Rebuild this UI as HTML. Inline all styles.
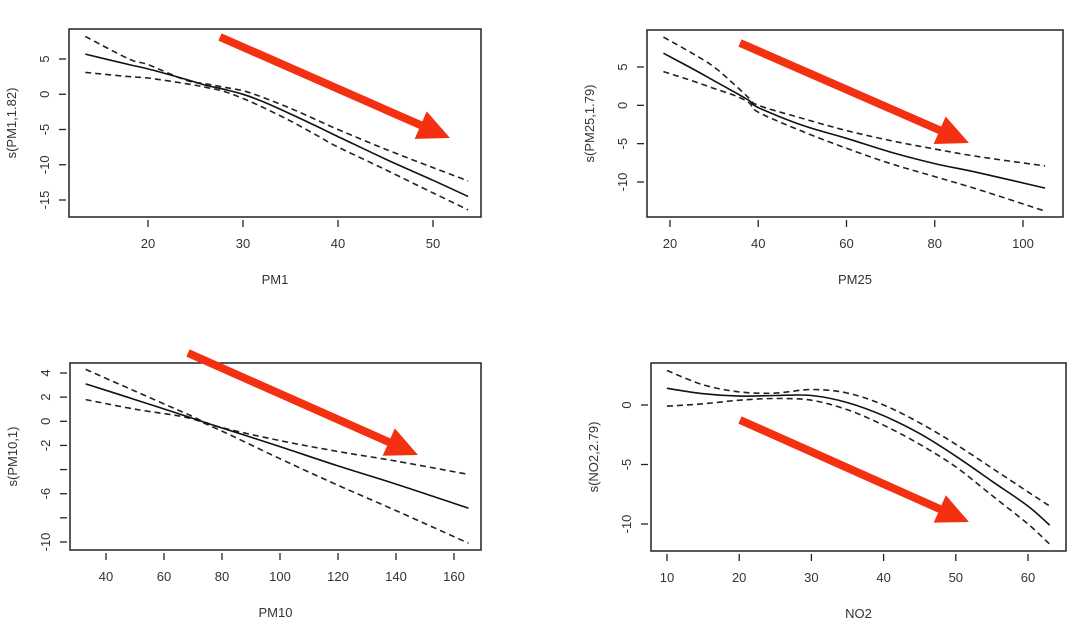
<!DOCTYPE html>
<html><head><meta charset="utf-8"><style>
html,body{margin:0;padding:0;background:#fff;}
svg{display:block;font-family:"Liberation Sans",Arial,sans-serif;}
</style></head><body>
<svg id="c" width="1080" height="624" viewBox="0 0 1080 624"></svg>
<script>
// Panel 1: PM1
const pm1X=[13.4,18,20,24,26,28,30,32,35,38,40,45,50,53.7];
const pm1Fit=[5.7,4.2,3.6,2.1,1.3,0.7,0,-1.0,-2.8,-4.7,-6.0,-9.2,-12.2,-14.5];
const pm1Up=[8.2,5.0,4.2,2.0,1.5,1.0,0.5,-0.4,-2.0,-3.8,-5.0,-7.8,-10.4,-12.3];
const pm1Lo=[3.1,2.5,2.3,1.5,1.0,0.4,-0.6,-1.8,-3.8,-6.0,-7.5,-10.7,-14.0,-16.4];
const pm1XTicks=[20,30,40,50];
const pm1YTicks=[5,0,-5,-10,-15];
// Panel 2: PM25
const pm25X=[18.5,25,30,35,38,40,50,60,70,80,90,105];
const pm25Fit=[6.8,4.8,3.2,1.6,0.6,-0.3,-2.6,-4.3,-6.1,-7.6,-8.8,-10.8];
const pm25Up=[8.9,6.8,5.0,2.5,0.9,0,-1.7,-3.3,-4.6,-5.7,-6.7,-7.9];
const pm25Lo=[4.4,3.2,2.2,1.2,0.3,-0.9,-3.4,-5.6,-7.6,-9.3,-11.0,-13.8];
const pm25XTicks=[20,40,60,80,100];
const pm25YTicks=[5,0,-5,-10];
// Panel 3: PM10
const pm10X=[33,50,68,78,100,120,140,165];
const pm10Fit=[3.1,1.8,0.4,-0.4,-2.1,-3.7,-5.2,-7.2];
const pm10Up=[4.3,2.5,0.6,-0.4,-1.6,-2.5,-3.3,-4.4];
const pm10Lo=[1.8,1.0,0.3,-0.6,-3.1,-5.3,-7.4,-10.1];
const pm10XTicks=[40,60,80,100,120,140,160];
const pm10YTicks=[4,2,0,-2,-4,-6,-8,-10];
const pm10YLabels=["4","2","0","-2","","-6","","-10"];
// Panel 4: NO2
const no2X=[10,15,20,25,30,35,40,45,50,55,60,63];
const no2Fit=[1.4,0.95,0.75,0.8,0.8,0.2,-0.9,-2.4,-4.3,-6.4,-8.5,-10.1];
const no2Up=[2.9,1.7,1.1,1.0,1.3,1.0,0.0,-1.5,-3.3,-5.3,-7.3,-8.5];
const no2Lo=[-0.1,0.1,0.4,0.55,0.4,-0.4,-1.7,-3.3,-5.2,-7.6,-10.0,-11.7];
const no2XTicks=[10,20,30,40,50,60];
const no2YTicks=[0,-5,-10];

const NS="http://www.w3.org/2000/svg";
const svg=document.getElementById('c');
function mk(tag,attrs,parent){const e=document.createElementNS(NS,tag);for(const k in attrs)e.setAttribute(k,attrs[k]);(parent||svg).appendChild(e);return e;}

function smooth(pts){
  let d='M'+pts[0][0].toFixed(1)+','+pts[0][1].toFixed(1);
  for(let i=0;i<pts.length-1;i++){
    const p0=pts[Math.max(0,i-1)],p1=pts[i],p2=pts[i+1],p3=pts[Math.min(pts.length-1,i+2)];
    const c1x=p1[0]+(p2[0]-p0[0])/6,c1y=p1[1]+(p2[1]-p0[1])/6;
    const c2x=p2[0]-(p3[0]-p1[0])/6,c2y=p2[1]-(p3[1]-p1[1])/6;
    d+=` C${c1x.toFixed(1)},${c1y.toFixed(1)} ${c2x.toFixed(1)},${c2y.toFixed(1)} ${p2[0].toFixed(1)},${p2[1].toFixed(1)}`;
  }
  return d;
}

function panel(cfg){
  const g=mk('g',{});
  
  
  const sx=v=>cfg.px0+(v-cfg.x0)*(cfg.px1-cfg.px0)/(cfg.x1-cfg.x0);
  const sy=v=>cfg.py0+(v-cfg.y0)*(cfg.py1-cfg.py0)/(cfg.y1-cfg.y0);
  const box=mk('rect',{x:cfg.bx0,y:cfg.by0,width:cfg.bx1-cfg.bx0,height:cfg.by1-cfg.by0,fill:'none',stroke:'#222','stroke-width':1.5},g);
  
  
  const xa=mk('g',{},g);
  
  
  cfg.xt.forEach(t=>{
    mk('line',{x1:sx(t),x2:sx(t),y1:cfg.by1+3,y2:cfg.by1+10,stroke:'#222','stroke-width':1.3},xa);
    const tx=mk('text',{x:sx(t),y:cfg.by1+31,'text-anchor':'middle','font-size':13,fill:'#333'},xa);
    tx.textContent=t;
    
    
  });
  const ya=mk('g',{},g);
  
  
  const ax=cfg.bx0;
  cfg.yt.forEach((t,i)=>{
    mk('line',{x1:ax-10,x2:ax-3,y1:sy(t),y2:sy(t),stroke:'#222','stroke-width':1.3},ya);
    const lab=cfg.yl?cfg.yl[i]:String(t);
    if(lab!==""){
      const tx=mk('text',{x:0,y:0,transform:`translate(${ax-20},${sy(t)}) rotate(-90)`,'text-anchor':'middle','font-size':13,fill:'#333'},ya);
      tx.textContent=lab;
      
      
    }
  });
  const xt=mk('text',{x:(cfg.bx0+cfg.bx1)/2,y:cfg.by1+67,'text-anchor':'middle','font-size':13,fill:'#333'},g);
  xt.textContent=cfg.xlab;
  
  
  const yt=mk('text',{x:0,y:0,transform:`translate(${cfg.bx0-53},${(cfg.by0+cfg.by1)/2}) rotate(-90)`,'text-anchor':'middle','font-size':13,fill:'#333'},g);
  yt.textContent=cfg.ylab;
  
  
  const path=arr=>smooth(cfg.xs.map((x,i)=>[sx(x),sy(arr[i])]));
  const up=mk('path',{d:path(cfg.up),fill:'none',stroke:'#222','stroke-width':1.6,'stroke-dasharray':'6,4'},g);
  
  
  const lo=mk('path',{d:path(cfg.lo),fill:'none',stroke:'#222','stroke-width':1.6,'stroke-dasharray':'6,4'},g);
  
  
  const fit=mk('path',{d:path(cfg.fit),fill:'none',stroke:'#111','stroke-width':1.6},g);
  
  
  const [x1,y1,x2,y2]=cfg.arrow;
  const dx=x2-x1,dy=y2-y1,L=Math.hypot(dx,dy),ux=dx/L,uy=dy/L,hl=32,hw=15;
  const bx=x2-ux*hl,by=y2-uy*hl;
  const ag=mk('g',{},g);
  
  
  mk('line',{x1:x1,y1:y1,x2:bx+ux*2,y2:by+uy*2,stroke:'#f3300f','stroke-width':8},ag);
  mk('polygon',{points:`${x2},${y2} ${bx-uy*hw},${by+ux*hw} ${bx+uy*hw},${by-ux*hw}`,fill:'#f3300f'},ag);
}

panel({name:'pm1',xs:pm1X,fit:pm1Fit,up:pm1Up,lo:pm1Lo,xt:pm1XTicks,yt:pm1YTicks,
  x0:20,x1:50,px0:148,px1:433,y0:5,y1:-15,py0:59,py1:200,
  bx0:69,bx1:481,by0:29,by1:217,xlab:'PM1',ylab:'s(PM1,1.82)',arrow:[220,37,450,138]});
panel({name:'pm25',xs:pm25X,fit:pm25Fit,up:pm25Up,lo:pm25Lo,xt:pm25XTicks,yt:pm25YTicks,
  x0:20,x1:100,px0:670,px1:1023,y0:5,y1:-10,py0:67,py1:182,
  bx0:647,bx1:1063,by0:30,by1:217,xlab:'PM25',ylab:'s(PM25,1.79)',arrow:[740,43,969,143]});
panel({name:'pm10',xs:pm10X,fit:pm10Fit,up:pm10Up,lo:pm10Lo,xt:pm10XTicks,yt:pm10YTicks,yl:pm10YLabels,
  x0:40,x1:160,px0:106,px1:454,y0:4,y1:-10,py0:373,py1:542,
  bx0:70,bx1:481,by0:363,by1:550,xlab:'PM10',ylab:'s(PM10,1)',arrow:[188,353,418,455]});
panel({name:'no2',xs:no2X,fit:no2Fit,up:no2Up,lo:no2Lo,xt:no2XTicks,yt:no2YTicks,
  x0:10,x1:60,px0:667,px1:1028,y0:0,y1:-10,py0:405,py1:524,
  bx0:651,bx1:1066,by0:363,by1:551,xlab:'NO2',ylab:'s(NO2,2.79)',arrow:[740,420,969,522]});
</script>
</body></html>
